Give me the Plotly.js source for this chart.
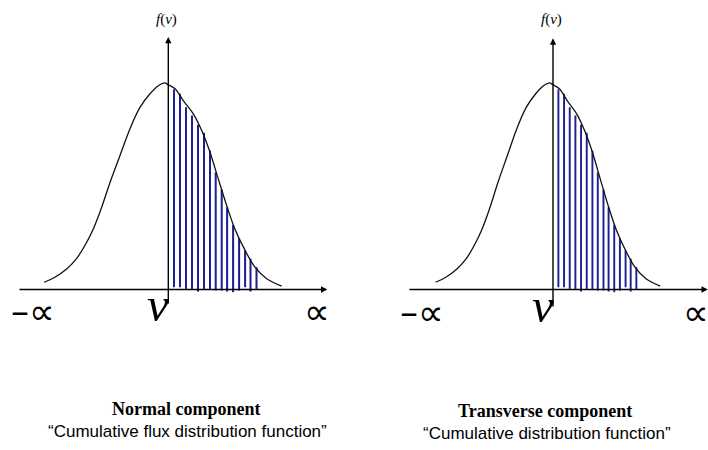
<!DOCTYPE html>
<html>
<head>
<meta charset="utf-8">
<script src="https://cdn.plot.ly/plotly-3.0.1.min.js"></script>
<style>
  html, body { margin: 0; padding: 0; background: #fff; }
  #chart { width: 708px; height: 450px; }
</style>
</head>
<body>
<div id="chart"></div>
<script>
// Bell-shaped density f(v), traced as (v, f) pairs; peak normalised to 1
const curveV = [-20.7, -18.9, -16.9, -15.3, -13.9, -12.5, -11.1, -9.7, -8.05, -6.4, -4.7, -3.05, -1.67, -0.55, -0.27, 1.12, 2.5, 4.17, 5.57, 6.95, 8.33, 9.73, 11.1, 12.8, 14.45, 16.4, 18.9];
const curveF = [0.035, 0.059, 0.10, 0.149, 0.213, 0.293, 0.398, 0.519, 0.648, 0.777, 0.882, 0.947, 0.986, 1.0, 0.995, 0.971, 0.914, 0.850, 0.769, 0.664, 0.535, 0.406, 0.293, 0.189, 0.108, 0.052, 0.016];

// Hatched strips under the curve for v > 0 (position, top, bottom)
const stripV   = [0.95, 1.95, 2.95, 3.95, 4.95, 5.95, 6.95, 7.9, 8.9, 9.8, 10.8, 11.8, 12.8, 13.7, 14.7];
const stripTop = [0.968, 0.947, 0.882, 0.842, 0.797, 0.758, 0.672, 0.567, 0.484, 0.398, 0.313, 0.248, 0.189, 0.149, 0.108];
const stripBot = [0.011, 0.011, 0.003, 0.003, -0.01, 0.003, 0.003, -0.005, -0.005, -0.01, -0.013, -0.005, 0.011, -0.01, 0.003];

// Text
const panelTitles    = ["Normal component", "Transverse component"];
const panelSubtitles = ["\u201CCumulative flux distribution function\u201D", "\u201CCumulative distribution function\u201D"];
const axisLabelY = "<i>f</i>(<i>v</i>)";
const axisLabelX = "<i>v</i>";
const lowEnd  = "\u2013\u221D";
const highEnd = "\u221D";

const W = 708, H = 450;
const px = x => x / W;
const py = y => 1 - y / H;

const stripLen = stripTop.map((t, i) => t - stripBot[i]);

function panelTraces(xa) {
  return [
    {
      type: 'bar', x: stripV, y: stripLen, base: stripBot, width: 0.34,
      xaxis: xa, yaxis: 'y',
      marker: { color: '#1e1e96', line: { width: 0 } },
      hoverinfo: 'skip', showlegend: false
    },
    {
      type: 'scatter', mode: 'lines', x: curveV, y: curveF,
      xaxis: xa, yaxis: 'y',
      line: { color: '#111', width: 1.3, shape: 'spline', smoothing: 0.9 },
      hoverinfo: 'skip', showlegend: false
    }
  ];
}

const data = [...panelTraces('x'), ...panelTraces('x2')];

const hiddenAxis = {
  visible: false, showgrid: false, zeroline: false, fixedrange: true
};

// Arrowed axis lines drawn in data coordinates of each panel
function axisArrow(xr, x0, y0, x1, y1) {
  return {
    xref: xr, yref: 'y', axref: xr, ayref: 'y',
    x: x1, y: y1, ax: x0, ay: y0, text: '',
    showarrow: true, arrowhead: 2, arrowsize: 0.9, arrowwidth: 1.4,
    arrowcolor: '#000', standoff: 0, startstandoff: 0
  };
}

function label(text, x, y, font) {
  return {
    xref: 'paper', yref: 'paper', x: px(x), y: py(y),
    xanchor: 'center', yanchor: 'middle', showarrow: false,
    text: text, font: font
  };
}

const serif = 'Liberation Serif, Times New Roman, serif';
const sans  = 'Liberation Sans, Arial, sans-serif';
const symb  = 'DejaVu Sans, sans-serif';
const black = '#000';

const annotations = [
  axisArrow('x', -25.05, 0, 26.5, 0),
  axisArrow('x', 0, -0.075, 0, 1.222),
  axisArrow('x2', -25.6, 0, 27.3, 0),
  axisArrow('x2', 0, -0.09, 0, 1.215),

  label(axisLabelY, 166.5, 20, { family: serif, size: 15, color: black }),
  label(axisLabelY, 551, 19.5, { family: serif, size: 15, color: black }),

  // range ends of the horizontal axes
  label(lowEnd, 33, 311, { family: symb, size: 36, color: black }),
  label(highEnd, 316.5, 311, { family: symb, size: 36, color: black }),
  label(lowEnd, 422, 312.5, { family: symb, size: 36, color: black }),
  label(highEnd, 696, 312.5, { family: symb, size: 36, color: black }),

  label(axisLabelX, 157.5, 304, { family: serif, size: 49, color: black }),
  label(axisLabelX, 542.5, 305, { family: serif, size: 49, color: black }),

  label('<b>' + panelTitles[0] + '</b>', 186, 409, { family: serif, size: 18, color: black }),
  label(panelSubtitles[0], 187, 431, { family: sans, size: 17, color: black }),
  label('<b>' + panelTitles[1] + '</b>', 545, 411, { family: serif, size: 18, color: black }),
  label(panelSubtitles[1], 547, 433, { family: sans, size: 17, color: black })
];

const yBottom = (289.5 - 450) / 206.7;
const yTop = 289.5 / 206.7;

const layout = {
  width: W, height: H,
  margin: { l: 0, r: 0, t: 0, b: 0, pad: 0 },
  paper_bgcolor: '#fff', plot_bgcolor: 'rgba(0,0,0,0)',
  showlegend: false,
  xaxis:  Object.assign({}, hiddenAxis, { domain: [0, 0.5], range: [-168.3 / 6, (354 - 168.3) / 6], anchor: 'y' }),
  xaxis2: Object.assign({}, hiddenAxis, { domain: [0.5, 1], range: [(354 - 553) / 5.67, (708 - 553) / 5.67], anchor: 'y' }),
  yaxis:  Object.assign({}, hiddenAxis, { domain: [0, 1], range: [yBottom, yTop] }),
  annotations: annotations
};

Plotly.newPlot('chart', data, layout, { displayModeBar: false, staticPlot: true });
</script>
</body>
</html>
